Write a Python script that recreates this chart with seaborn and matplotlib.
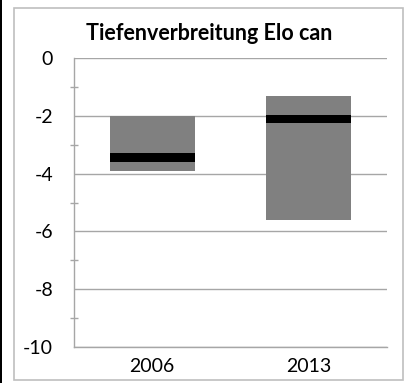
import matplotlib
matplotlib.use("Agg")
import matplotlib.pyplot as plt
import seaborn as sns
import pandas as pd
from matplotlib.patches import Rectangle
from matplotlib.ticker import MultipleLocator

# Data
years = ["2006", "2013"]
depth_top = [-2.0, -1.3]
depth_bottom = [-3.9, -5.6]
band_top = [-3.3, -1.97]
band_bottom = [-3.6, -2.25]
y_ticks = [0, -2, -4, -6, -8, -10]
title = "Tiefenverbreitung Elo can"

sns.set_theme(style="white")
plt.rcParams["font.family"] = ["Lato", "DejaVu Sans"]

W, H = 406, 383
fig = plt.figure(figsize=(W / 100, H / 100), dpi=100)
ax = fig.add_axes([74 / W, 36 / H, 313 / W, 289 / H])

df = pd.DataFrame({
    "year": years,
    "top": depth_top,
    "bottom": depth_bottom,
    "btop": band_top,
    "bbot": band_bottom,
})
df["span"] = df["bottom"] - df["top"]
df["bspan"] = df["bbot"] - df["btop"]

sns.barplot(data=df, x="year", y="span", bottom=df["top"].values,
            color="#808080", saturation=1, width=0.545, errorbar=None,
            ax=ax, zorder=2, linewidth=0)
sns.barplot(data=df, x="year", y="bspan", bottom=df["btop"].values,
            color="#000000", saturation=1, width=0.545, errorbar=None,
            ax=ax, zorder=3, linewidth=0)

grid_c = "#a6a6a6"
ax.set_ylim(-10, 0)
ax.set_xlim(-0.5, 1.5)
ax.set_yticks(y_ticks)
ax.set_yticklabels([str(v) for v in y_ticks])
ax.yaxis.set_minor_locator(MultipleLocator(1))
ax.set_axisbelow(True)
ax.yaxis.grid(True, which="major", color=grid_c, lw=1)
ax.xaxis.grid(False)
for s in ["top", "right"]:
    ax.spines[s].set_visible(False)
for s in ["left", "bottom"]:
    ax.spines[s].set_color(grid_c)
    ax.spines[s].set_linewidth(1)
ax.tick_params(axis="y", which="major", direction="out", length=6,
               color=grid_c, width=1, labelsize=14, labelcolor="black", pad=9)
ax.tick_params(axis="y", which="minor", direction="inout", length=6,
               color=grid_c, width=1, left=True)
ax.tick_params(axis="x", length=0, labelsize=14, labelcolor="black", pad=8)
ax.set_xlabel("")
ax.set_ylabel("")

fig.text(209 / W, 1 - 34 / H, title, ha="center", va="center",
         fontsize=15.5, fontweight="bold", color="black")

fig.add_artist(Rectangle((14 / W, 3 / H), (403 - 14) / W, (380 - 8) / H,
                         transform=fig.transFigure, fill=False,
                         edgecolor="#bfbfbf", lw=1.2))
fig.add_artist(Rectangle((0, 0), 2.5 / W, 1, transform=fig.transFigure,
                         facecolor="black", edgecolor="none"))

fig.savefig("out.png", dpi=100, facecolor="white")
